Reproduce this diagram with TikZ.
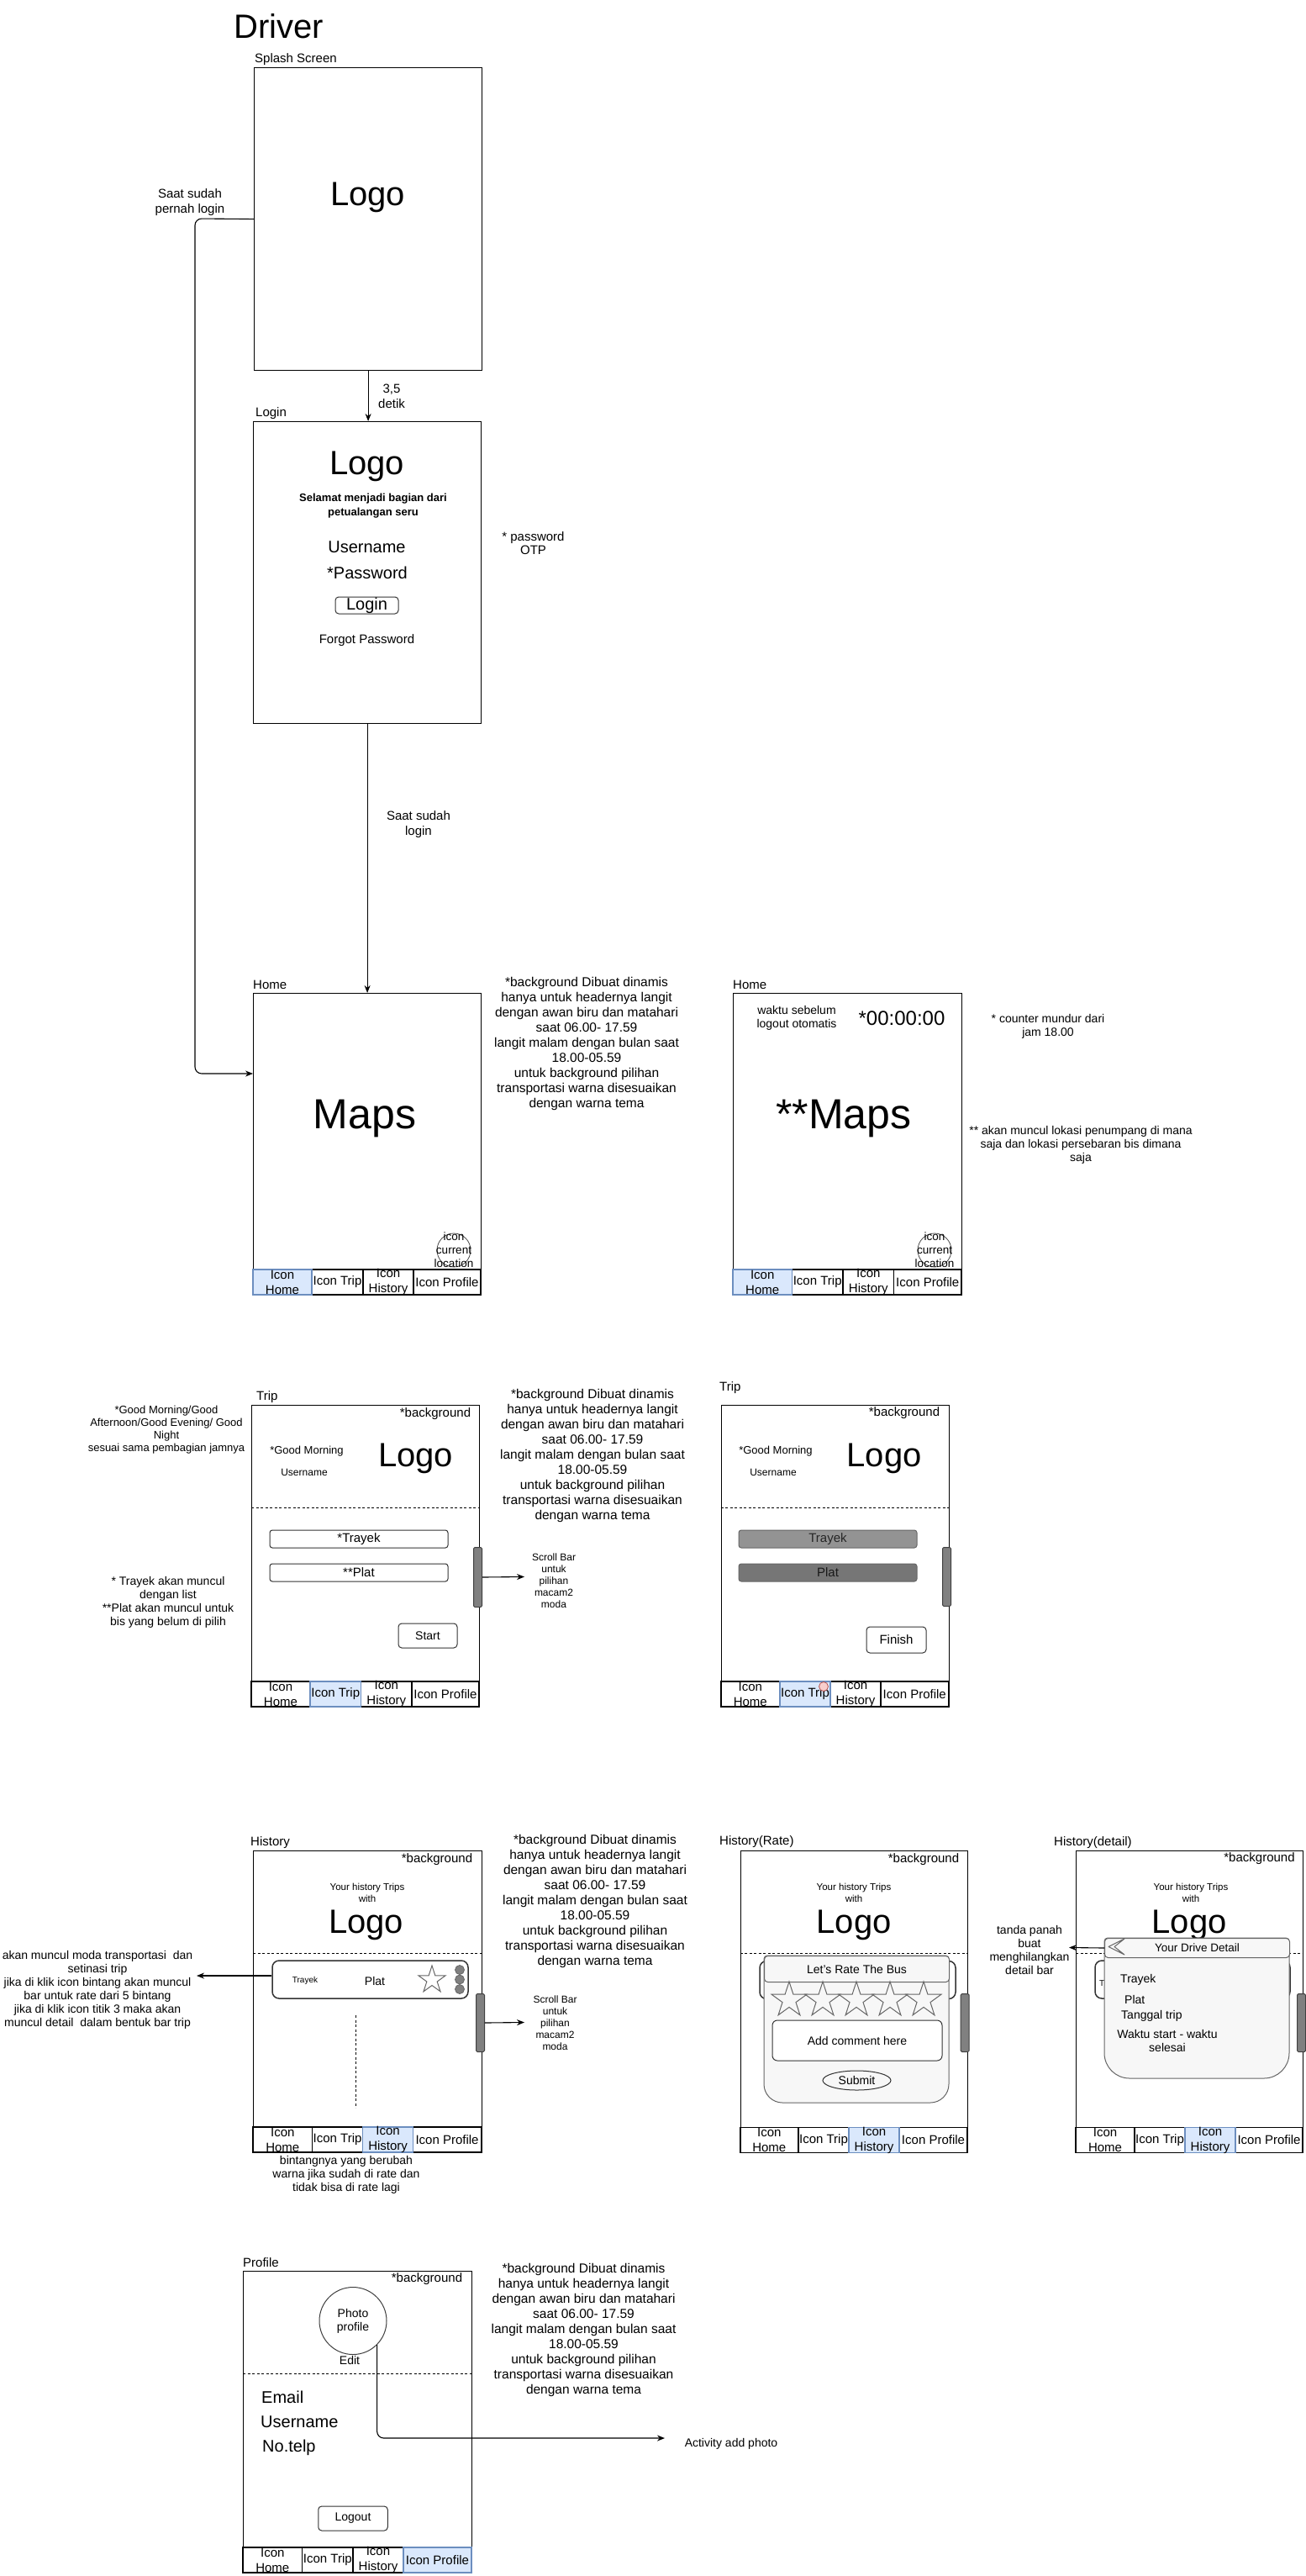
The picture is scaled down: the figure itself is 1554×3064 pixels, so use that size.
\documentclass[tikz,border=0pt]{standalone}
\usepackage{fontspec}
\setmainfont{Liberation Sans}
\usetikzlibrary{arrows.meta,shapes.geometric,calc}
\definecolor{hlfill}{HTML}{DAE8FC}
\definecolor{hlline}{HTML}{6C8EBF}
\definecolor{popfill}{HTML}{F7F7F7}
\definecolor{popline}{HTML}{666666}
\definecolor{barfill}{HTML}{808080}
\definecolor{gA}{HTML}{939393}
\definecolor{gB}{HTML}{767676}
\definecolor{redf}{HTML}{F8CECC}
\definecolor{redl}{HTML}{B85450}
\definecolor{dk}{HTML}{333333}
\newcommand\fsz[2]{\fontsize{#1}{#2}\selectfont}
\tikzset{
 scr/.style={draw, line width=1.2pt, inner sep=0, anchor=north west},
 lbl/.style={anchor=west, inner sep=0, font=\fsz{15}{18}},
 note/.style={align=center, inner sep=0, font=\fsz{15.5}{18}},
 tx10/.style={align=center, inner sep=0, font=\fsz{10}{12}},
 tx12/.style={align=center, inner sep=0, font=\fsz{12}{14}},
 tx13/.style={align=center, inner sep=0, font=\fsz{13}{15}},
 tx14/.style={align=center, inner sep=0, font=\fsz{14}{16}},
 tx15/.style={align=center, inner sep=0, font=\fsz{15}{18}},
 tx20/.style={align=center, inner sep=0, font=\fsz{20}{24}},
 ltx/.style={anchor=west, inner sep=0, font=\fsz{14}{16}},
 logo/.style={inner sep=0, font=\fsz{40}{48}},
 maps/.style={inner sep=0, font=\fsz{50}{60}},
 tabtxt/.style={align=center, inner sep=0, font=\fsz{15}{18}},
 tabline/.style={line width=1.1pt},
 hl/.style={draw=hlline, fill=hlfill, line width=1.1pt},
 arr/.style={line width=1.1pt, -{Stealth[length=9pt,width=7pt]}},
 btn/.style={draw=dk, rounded corners=4pt, line width=1pt, inner sep=0, font=\fsz{14}{16}},
 sbar/.style={draw=black!75, fill=barfill, rounded corners=1.5pt, line width=1pt, anchor=north west, inner sep=0, minimum width=10pt},
 dsh/.style={dash pattern=on 3pt off 2.5pt, line width=1pt},
 field/.style={draw=dk, rounded corners=3pt, line width=1pt, inner sep=0, minimum width=212pt, minimum height=21pt, font=\fsz{15}{18}},
 bgl/.style={inner sep=0, font=\fsz{15}{18}},
 locc/.style={circle, draw=black!70, line width=0.8pt, minimum width=40pt, inner sep=0},
 dotn/.style={circle, draw=popline, fill=barfill, minimum size=11pt, inner sep=0, line width=0.8pt},
 rstar/.style={star, star points=5, star point ratio=2.618, inner sep=0, draw=popline, fill=popfill, line width=1pt},
 card/.style={draw=dk, rounded corners=8pt, line width=1.5pt, inner sep=0, minimum width=233pt, minimum height=45pt},
 pop/.style={draw=popline, fill=popfill, line width=1pt},
 hdr/.style={draw=popline, fill=popfill, line width=1pt, rounded corners=4pt, inner sep=0, anchor=north west, minimum width=220pt},
}
% tabs: #1 prefix, #2..#6 x borders, #7 top y, #8 highlighted tab (1-4)
\newcommand\mytabs[8]{%
  \draw[tabline] (#2,#7) rectangle (#6,#7+30);
  \draw[tabline] (#3,#7) -- (#3,#7+30) (#4,#7) -- (#4,#7+30) (#5,#7) -- (#5,#7+30);
  \ifcase#8\or \draw[hl] (#2,#7) rectangle (#3,#7+30);
  \or \draw[hl] (#3,#7) rectangle (#4,#7+30);
  \or \draw[hl] (#4,#7) rectangle (#5,#7+30);
  \or \draw[hl] (#5,#7) rectangle (#6,#7+30);\fi
  \node[tabtxt] (#1h) at ({(#2+#3)/2},#7+15) {Icon\\Home};
  \node[tabtxt] (#1t) at ({(#3+#4)/2},#7+15) {Icon Trip};
  \node[tabtxt] (#1y) at ({(#4+#5)/2},#7+15) {Icon\\History};
  \node[tabtxt] (#1p) at ({(#5+#6)/2},#7+15) {Icon Profile};
}
\newcommand\bgnote{*background Dibuat dinamis\\hanya untuk headernya langit\\dengan awan biru dan matahari\\saat 06.00- 17.59\\langit malam dengan bulan saat\\18.00-05.59\\untuk background pilihan\\transportasi warna disesuaikan\\dengan warna tema}
\begin{document}
\begin{tikzpicture}[x=1pt,y=-1pt]
\fill[white] (0,0) rectangle (1554,3064);
\useasboundingbox (0,0) rectangle (1554,3064);

\node[inner sep=0, font=\fsz{40}{48}] (title) at (331.5,31) {Driver};

% ---------- Splash
\node[lbl] (splashlbl) at (303,71) {Splash Screen};
\node[scr, minimum width=271pt, minimum height=360pt] (splash) at (302,80) {};
\node[logo] (lg1) at (437.5,235) {Logo};
\node[tx15] (n1) at (226,241) {Saat sudah\\pernah login};
\node[tx15] (n2) at (466,471) {3,5\\detik};

% ---------- Login
\node[lbl] (loginlbl) at (304,492) {Login};
\node[scr, minimum width=271pt, minimum height=359pt] (login) at (301,501) {};
\node[logo] (lg2) at (436.5,555) {Logo};
\node[inner sep=0, align=center, font=\fsz{13}{17}\bfseries] (sel) at (444,601.5) {Selamat menjadi bagian dari\\petualangan seru};
\node[tx20] (user) at (436.5,651) {Username};
\node[tx20] (pass) at (437,681) {*Password};
\node[btn, minimum width=75pt, minimum height=20pt, font=\fsz{20}{24}] (lbtn) at (436.5,720) {Login};
\node[tx15] (forgot) at (436.5,761.5) {Forgot Password};
\node[align=center, inner sep=0, font=\fsz{15}{16}] (otp) at (634.5,646) {* password\\OTP};
\node[tx15] (n3) at (498,981) {Saat sudah\\login};

% ---------- Home
\node[lbl] (homelbl) at (301,1171) {Home};
\node[scr, minimum width=271pt, minimum height=359pt] (home) at (301,1181) {};
\node[maps] (maps1) at (434,1330) {Maps};
\node[locc, minimum height=36pt] (loc1) at (540,1487) {};
\node[align=center, inner sep=0, font=\fsz{13.5}{16}] (loc1t) at (540,1487) {icon\\current\\location};
\mytabs{ta}{301}{371}{432}{492}{572}{1510}{1}
\node[note] (hnote) at (698,1241) {\bgnote};

% ---------- Home 2
\node[lbl] (home2lbl) at (872,1171) {Home};
\node[scr, minimum width=272pt, minimum height=359pt] (home2) at (872,1181) {};
\node[tx14] (waktu) at (948,1211) {waktu sebelum\\logout otomatis};
\node[inner sep=0, font=\fsz{24}{28}] (counter) at (1073,1211) {*00:00:00};
\node[maps] (maps2) at (1004,1330) {**Maps};
\node[locc, minimum height=36pt] (loc2) at (1112,1487) {};
\node[align=center, inner sep=0, font=\fsz{13.5}{16}] (loc2t) at (1112,1487) {icon\\current\\location};
\mytabs{tb}{872}{942.4}{1003}{1063.5}{1144}{1510}{1}
\node[tx14] (cnote) at (1247,1221) {* counter mundur dari\\jam 18.00};
\node[tx14] (mnote) at (1286,1362) {** akan muncul lokasi penumpang di mana\\saja dan lokasi persebaran bis dimana\\saja};

% ---------- Trip
\node[lbl] (triplbl) at (305,1662) {Trip};
\node[scr, minimum width=271pt, minimum height=359pt] (trip) at (299,1671) {};
\node[bgl] (bg1) at (518,1682) {*background};
\node[tx13] (gm1) at (365,1726) {*Good Morning};
\node[tx12] (un1) at (362,1751) {Username};
\node[logo] (lg3) at (494.5,1735) {Logo};
\draw[dsh] (trip.west |- 0,1793) -- (trip.east |- 0,1793);
\node[field] (tray1) at (427,1830.5) {*Trayek};
\node[field] (plat1) at (427,1870.5) {**Plat};
\node[sbar, minimum height=71pt] (scr1) at (563,1840) {};
\coordinate (s1e) at (624,1875.5);
\draw[arr] (scr1.east) -- (s1e);
\node[tx12] (sn1) at (659,1880) {Scroll Bar\\untuk\\pilihan\\macam2\\moda};
\node[btn, minimum width=70pt, minimum height=29pt] (start) at (509,1945.5) {Start};
\mytabs{tc}{299}{369}{429.5}{490}{570}{2000}{2}
\node[tx13] (gmnote) at (198,1700.5) {*Good Morning/Good\\Afternoon/Good Evening/ Good\\Night\\sesuai sama pembagian jamnya};
\node[tx14] (trnote) at (200,1906) {* Trayek akan muncul\\dengan list\\**Plat akan muncul untuk\\bis yang belum di pilih};
\node[note] (tnote) at (705,1731) {\bgnote};

% ---------- Trip 2
\node[lbl] (trip2lbl) at (856,1651) {Trip};
\node[scr, minimum width=271pt, minimum height=359pt] (trip2) at (857.5,1671) {};
\node[bgl] (bg2) at (1076,1681) {*background};
\node[tx13] (gm2) at (923,1726) {*Good Morning};
\node[tx12] (un2) at (920,1751) {Username};
\node[logo] (lg4) at (1052,1735) {Logo};
\draw[dsh] (trip2.west |- 0,1793) -- (trip2.east |- 0,1793);
\node[field, draw=popline, fill=gA, text=black!85] (tray2) at (985,1830.5) {Trayek};
\node[field, draw=popline, fill=gB, text=black!90] (plat2) at (985,1870.5) {Plat};
\node[sbar, minimum height=70pt] (scr2) at (1121,1840) {};
\node[btn, minimum width=71pt, minimum height=31pt, font=\fsz{15}{18}] (finish) at (1066.5,1950.5) {Finish};
\mytabs{td}{857.5}{928}{988}{1048}{1128.5}{2000}{2}
\node[circle, draw=redl, fill=redf, minimum size=11pt, inner sep=0, line width=0.8pt] (rdot) at (980,2006) {};

% ---------- History
\node[lbl] (histlbl) at (298,2192) {History};
\node[scr, minimum width=271.5pt, minimum height=359pt] (hist) at (301,2201) {};
\node[bgl] (bg3) at (520,2212) {*background};
\node[align=center, inner sep=0, font=\fsz{11.5}{14}] (yh1) at (437,2251) {Your history Trips\\with};
\node[logo] (lg5) at (435.5,2290) {Logo};
\draw[dsh] (hist.west |- 0,2323) -- (hist.east |- 0,2323);
\node[card] (hcard) at (440.5,2354.5) {};
\node[tx10] (hctr) at (363,2356) {Trayek};
\node[tx14] (hcpl) at (446,2356) {Plat};
\node[rstar, minimum size=34pt, fill=white] (hstar) at (514,2355) {};
\node[dotn] (d1) at (547,2343) {};
\node[dotn] (d2) at (547,2354.5) {};
\node[dotn] (d3) at (547,2366) {};
\coordinate (hle) at (234,2350);
\draw[arr] ([yshift=4.5pt]hcard.west) -- (hle);
\node[tx14] (hlnote) at (116,2367) {akan muncul moda transportasi \ dan\\setinasi trip\\jika di klik icon bintang akan muncul\\bar untuk rate dari 5 bintang\\jika di klik icon titik 3 maka akan\\muncul detail \ dalam bentuk bar trip};
\draw[dsh] (423,2397) -- (423,2507);
\node[sbar, minimum height=69pt] (scr3) at (566,2371) {};
\coordinate (s3e) at (624,2405.5);
\draw[arr] (scr3.east) -- (s3e);
\node[tx12] (sn3) at (660.5,2406) {Scroll Bar\\untuk\\pilihan\\macam2\\moda};
\mytabs{te}{301}{371.6}{431.6}{491.6}{572.5}{2530}{3}
\node[tx14] (bnote) at (412,2587) {bintangnya yang berubah\\warna jika sudah di rate dan\\tidak bisa di rate lagi};
\node[note] (hnote2) at (708,2261) {\bgnote};

% ---------- History (Rate)
\node[lbl] (ratelbl) at (856,2191) {History(Rate)};
\node[scr, minimum width=270.5pt, minimum height=359pt] (rate) at (880.5,2201) {};
\node[bgl] (bg4) at (1099,2212) {*background};
\node[align=center, inner sep=0, font=\fsz{11.5}{14}] (yh2) at (1016,2251) {Your history Trips\\with};
\node[logo] (lg6) at (1016,2290) {Logo};
\draw[dsh] (rate.west |- 0,2323) -- (rate.east |- 0,2323);
\node[card] (rcard) at (1020.5,2355) {};
\draw[pop] (909,2410) [rounded corners=4pt] -- (909,2326) -- (1129,2326) -- (1129,2410) [rounded corners=22pt] -- (1129,2501) -- (909,2501) -- (909,2410);
\node[hdr, minimum height=31pt, font=\fsz{14}{16}] (rhead) at (909,2326) {Let's Rate The Bus};
\foreach \i in {0,...,4} {
  \node[rstar, minimum size=44pt] (rs\i) at (939+40*\i,2379) {};
}
\node[draw=dk, fill=white, rounded corners=6pt, line width=1pt, inner sep=0, minimum width=202pt, minimum height=48pt, font=\fsz{14}{16}] (comment) at (1020,2427) {Add comment here};
\node[ellipse, draw=dk, line width=1pt, inner sep=0, minimum width=81pt, minimum height=23pt, font=\fsz{14}{16}] (submit) at (1019.5,2474.5) {Submit};
\node[sbar, minimum height=69pt] (scr4) at (1142.7,2371) {};
\mytabs{tf}{880.5}{950}{1010}{1070}{1151}{2530.5}{3}

% ---------- History (detail)
\node[lbl] (detlbl) at (1254,2192) {History(detail)};
\node[scr, minimum width=270pt, minimum height=359pt] (det) at (1280,2201) {};
\node[bgl] (bg5) at (1498.5,2211) {*background};
\node[align=center, inner sep=0, font=\fsz{11.5}{14}] (yh3) at (1417,2251) {Your history Trips\\with};
\node[logo] (lg7) at (1415,2290) {Logo};
\draw[dsh] (det.west |- 0,2323) -- (det.east |- 0,2323);
\node[card, minimum width=232pt] (dcard) at (1419,2354.5) {};
\node[inner sep=0, anchor=west, font=\fsz{10}{12}] (dctr) at (1308,2360) {Trayek};
\draw[pop] (1314,2390) [rounded corners=4pt] -- (1314,2305) -- (1534,2305) -- (1534,2390) [rounded corners=30pt] -- (1534,2472) -- (1314,2472) -- (1314,2390);
\node[hdr, minimum height=23pt, font=\fsz{13.5}{16}] (dhead) at (1314,2305) {Your Drive Detail};
\draw[popline, line width=1pt, line join=round] (1338,2306) -- (1319,2315.5) -- (1338,2325) -- (1326,2315.5) -- cycle;
\node[ltx] (dtr) at (1333,2355) {Trayek};
\node[ltx] (dpl) at (1338,2378) {Plat};
\node[ltx] (dtg) at (1334,2398) {Tanggal trip};
\node[tx14] (dwk) at (1389,2427) {Waktu start - waktu\\selesai};
\node[sbar, minimum height=69pt] (scr5) at (1543,2371) {};
\mytabs{tg}{1280}{1350}{1410}{1470}{1550}{2530.5}{3}
\coordinate (dle) at (1272,2316.5);
\draw[arr] (dhead.west) -- (dle);
\node[align=center, inner sep=0, font=\fsz{14}{15.7}] (dnote) at (1225,2319.5) {tanda panah\\buat\\menghilangkan\\detail bar};

% ---------- Profile
\node[lbl] (proflbl) at (289,2691) {Profile};
\node[scr, minimum width=272pt, minimum height=359pt] (prof) at (289,2701) {};
\node[bgl] (bg6) at (508,2711) {*background};
\node[circle, draw=black!75, line width=1pt, minimum size=80pt, inner sep=0, align=center, font=\fsz{14}{16}] (photo) at (420,2760.5) {Photo\\profile};
\node[tx14] (edit) at (416,2807) {Edit};
\draw[dsh] (prof.west |- 0,2823) -- (prof.east |- 0,2823);
\node[anchor=west, inner sep=0, font=\fsz{20}{24}] (email) at (311,2851) {Email};
\node[anchor=west, inner sep=0, font=\fsz{20}{24}] (puser) at (310,2881) {Username};
\node[anchor=west, inner sep=0, font=\fsz{20}{24}] (telp) at (312,2911) {No.telp};
\node[btn, minimum width=82.5pt, minimum height=29pt] (logout) at (420,2995.5) {Logout};
\mytabs{th}{289}{359.6}{420}{480}{561}{3030}{4}
\node[tx14] (act) at (870,2907) {Activity add photo};
\coordinate (actend) at (791,2900);
\draw[arr, rounded corners=8pt] (photo.south east) |- (actend);
\node[note] (pnote) at (694.5,2771) {\bgnote};

% ---------- connectors
\draw[arr] (splash.south) -- (splash.south |- login.north);
\draw[arr] (login.south) -- (home.north);
\draw[arr, rounded corners=8pt] (splash.west) -- (232,260) |- ([yshift=-96pt]home.north west);
\end{tikzpicture}
\end{document}
